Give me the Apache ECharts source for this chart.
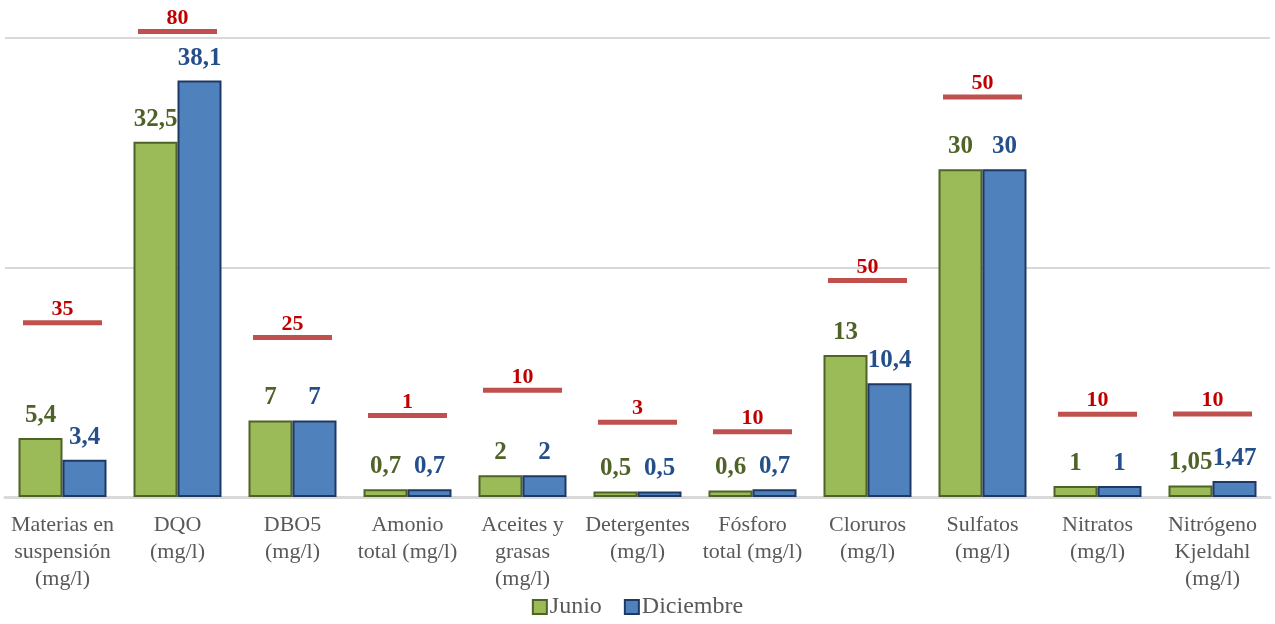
<!DOCTYPE html>
<html>
<head>
<meta charset="utf-8">
<script src="https://cdn.jsdelivr.net/npm/echarts@6/dist/echarts.min.js"></script>
<style>
  html, body { margin: 0; padding: 0; background: #ffffff; }
  #chart { width: 1275px; height: 624px; }
</style>
</head>
<body>
<div id="chart"></div>
<script>
// Parameters (mg/l) measured in June and December
const categories = [
  'Materias en\nsuspensión\n(mg/l)', 'DQO\n(mg/l)', 'DBO5\n(mg/l)', 'Amonio\ntotal (mg/l)',
  'Aceites y\ngrasas\n(mg/l)', 'Detergentes\n(mg/l)', 'Fósforo\ntotal (mg/l)', 'Cloruros\n(mg/l)',
  'Sulfatos\n(mg/l)', 'Nitratos\n(mg/l)', 'Nitrógeno\nKjeldahl\n(mg/l)'
];
const junio = [5.4, 32.5, 7, 0.7, 2, 0.5, 0.6, 13, 30, 1, 1.05];
const diciembre = [3.4, 38.1, 7, 0.7, 2, 0.5, 0.7, 10.4, 30, 1, 1.47];

// Legal limit for each parameter, and the height at which its marker bar sits
const limits = [35, 80, 25, 1, 10, 3, 10, 50, 50, 10, 10];
const limitMarkerLevel = [15.95, 42.6, 14.6, 7.45, 9.76, 6.84, 5.96, 19.8, 36.6, 7.57, 7.6];

const fmt = v => String(v).replace('.', ',');
const FONT = '"Liberation Serif", "DejaVu Serif", serif';

const chart = echarts.init(document.getElementById('chart'));

chart.setOption({
  animation: false,
  backgroundColor: '#ffffff',
  grid: { left: 5, right: 5, top: 38, bottom: 127, containLabel: false },
  legend: {
    data: ['Junio', 'Diciembre'],
    bottom: 0,
    left: 'center',
    itemWidth: 14,
    itemHeight: 14,
    itemGap: 22,
    icon: 'rect',
    textStyle: { fontFamily: FONT, fontSize: 24, color: '#595959', padding: [0, 0, 0, -2] }
  },
  xAxis: {
    type: 'category',
    data: categories,
    axisTick: { show: false },
    axisLine: { show: true, lineStyle: { color: '#D9D9D9', width: 3 } },
    axisLabel: {
      interval: 0,
      margin: 15,
      fontFamily: FONT,
      fontSize: 22,
      lineHeight: 27,
      color: '#595959'
    }
  },
  yAxis: {
    type: 'value',
    min: 0,
    max: 42,
    interval: 21,
    axisLabel: { show: false },
    axisLine: { show: false },
    axisTick: { show: false },
    splitLine: { show: true, lineStyle: { color: '#D9D9D9', width: 2 } }
  },
  series: [
    {
      name: 'Junio',
      type: 'bar',
      data: junio,
      barWidth: 44,
      barGap: '0%',
      itemStyle: { color: '#9BBB59', borderColor: '#4F6228', borderWidth: 2 },
      label: {
        show: true,
        position: 'top',
        distance: 10,
        formatter: p => fmt(p.value),
        fontFamily: FONT,
        fontWeight: 'bold',
        fontSize: 25,
        color: '#4F6228'
      }
    },
    {
      name: 'Diciembre',
      type: 'bar',
      data: diciembre,
      barWidth: 44,
      itemStyle: { color: '#4F81BD', borderColor: '#1F3864', borderWidth: 2 },
      label: {
        show: true,
        position: 'top',
        distance: 10,
        formatter: p => fmt(p.value),
        fontFamily: FONT,
        fontWeight: 'bold',
        fontSize: 25,
        color: '#254F8A'
      }
    },
    {
      name: 'Límite',
      type: 'scatter',
      clip: false,
      data: limitMarkerLevel.map((v, i) => [i, v]),
      symbol: 'rect',
      symbolSize: [79, 5],
      itemStyle: { color: '#C0504D', opacity: 1 },
      z: 5,
      label: {
        show: true,
        position: 'top',
        distance: 0,
        opacity: 1,
        formatter: p => String(limits[p.dataIndex]),
        fontFamily: FONT,
        fontWeight: 'bold',
        fontSize: 22,
        color: '#C00000'
      }
    }
  ]
});
</script>
</body>
</html>
